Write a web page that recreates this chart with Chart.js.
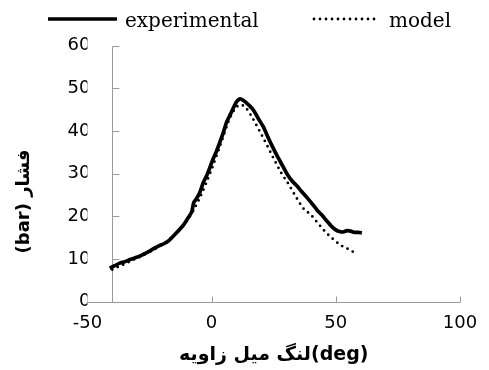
<!DOCTYPE html>
<html>
<head>
<meta charset="utf-8">
<script src="https://cdn.jsdelivr.net/npm/chart.js@4/dist/chart.umd.min.js"></script>
<style>
  html, body { margin: 0; padding: 0; background: #fff; }
  canvas { display: block; }
</style>
</head>
<body>
<canvas id="c" width="489" height="370"></canvas>
<script>
// ---- Data ----
const expX = [-41, -39, -37, -35, -33, -31, -29, -27, -25, -23, -21, -19, -17, -15, -13, -11, -9.5, -8, -7.2, -6, -4.7, -3.4, -2, -0.7, 0.6, 2, 3.3, 4.7, 6, 7.4, 8.7, 10, 11.4, 12.7, 14.7, 16.8, 18.8, 20.8, 22.8, 24.5, 26.5, 28.5, 30.5, 32.5, 34.5, 36.5, 38.5, 40.5, 42.5, 44.5, 46.5, 48.5, 50, 51.5, 53, 54.5, 56, 57.5, 59, 60.5];
const expY = [7.8, 8.4, 9.0, 9.3, 9.8, 10.2, 10.6, 11.2, 11.8, 12.5, 13.1, 13.6, 14.4, 15.6, 16.8, 18.2, 19.6, 21.0, 23.2, 24.2, 25.6, 27.8, 29.5, 31.4, 33.4, 35.3, 37.3, 39.6, 42.0, 43.7, 45.3, 46.8, 47.5, 47.2, 46.2, 44.9, 42.9, 41.0, 38.4, 36.3, 34.0, 31.9, 29.8, 28.2, 27.0, 25.6, 24.3, 22.9, 21.4, 20.2, 18.8, 17.5, 16.8, 16.4, 16.3, 16.6, 16.5, 16.2, 16.2, 16.1];
const modelX = [-40, -35, -30, -25, -20, -15, -10, -5, 0, 4, 7, 9.5, 11.5, 13.5, 16, 19, 22, 25, 28, 31, 34, 37, 40, 43, 46, 49, 52, 55, 58];
const modelY = [7.5, 8.8, 10.2, 11.6, 13.3, 15.6, 18.8, 24.0, 31.0, 37.5, 42.5, 45.2, 46.1, 45.6, 43.5, 40.3, 37.0, 33.5, 30.2, 27.5, 24.5, 21.8, 20.3, 18.2, 16.2, 14.6, 13.2, 12.3, 11.3];
const seriesNames = ['experimental', 'model'];
const xTicks = [-50, 0, 50, 100];
const yTicks = [0, 10, 20, 30, 40, 50, 60];
const xAxisTitle = 'لنگ میل زاویه(deg)';
const yAxisTitle = '(bar) فشار';
const yAxisCrossX = -40;

const toPoints = (xs, ys) => xs.map((v, i) => ({x: v, y: ys[i]}));

const axesPlugin = {
  id: 'axesPlugin',
  beforeDatasetsDraw(chart) {
    const {ctx, scales: {x, y}} = chart;
    ctx.save();
    ctx.strokeStyle = '#9a9a9a';
    ctx.lineWidth = 1;
    const x0 = Math.round(x.getPixelForValue(yAxisCrossX)) + 0.5;
    const yb = Math.round(y.getPixelForValue(0)) + 0.5;
    ctx.beginPath();
    ctx.moveTo(x0, Math.round(y.getPixelForValue(yTicks[yTicks.length - 1])) + 0.5);
    ctx.lineTo(x0, yb);
    yTicks.forEach(v => {
      const py = Math.round(y.getPixelForValue(v)) + 0.5;
      ctx.moveTo(x0, py); ctx.lineTo(x0 + 7, py);
    });
    ctx.moveTo(x.getPixelForValue(xTicks[0]), yb);
    ctx.lineTo(x.getPixelForValue(xTicks[xTicks.length - 1]), yb);
    xTicks.slice(1).forEach(v => {
      const px = Math.round(x.getPixelForValue(v)) + 0.5;
      ctx.moveTo(px, yb); ctx.lineTo(px, yb - 6);
    });
    ctx.stroke();
    ctx.restore();
  },
  afterDraw(chart) {
    const {ctx, chartArea} = chart;
    ctx.save();
    ctx.translate(24, chartArea.bottom - 100);
    ctx.rotate(-Math.PI / 2);
    ctx.direction = 'ltr';
    ctx.font = 'bold 18px "DejaVu Sans"';
    ctx.fillStyle = '#000';
    ctx.textAlign = 'center';
    ctx.textBaseline = 'middle';
    ctx.fillText(yAxisTitle, 0, 0);
    ctx.restore();

    const ds = chart.data.datasets;
    ctx.save();
    ctx.font = '20px "DejaVu Serif"';
    ctx.fillStyle = '#000';
    ctx.textBaseline = 'alphabetic';
    ctx.strokeStyle = ds[0].borderColor;
    ctx.lineWidth = ds[0].borderWidth;
    ctx.beginPath(); ctx.moveTo(48, 19); ctx.lineTo(117, 19); ctx.stroke();
    ctx.fillText(ds[0].label, 125, 26.5);
    ctx.strokeStyle = ds[1].borderColor;
    ctx.lineWidth = ds[1].borderWidth;
    ctx.lineCap = 'round';
    ctx.setLineDash(ds[1].borderDash);
    ctx.beginPath(); ctx.moveTo(314, 19); ctx.lineTo(377, 19); ctx.stroke();
    ctx.setLineDash([]);
    ctx.fillText(ds[1].label, 389, 26.5);
    ctx.restore();
  }
};

Chart.defaults.font.family = '"DejaVu Sans", sans-serif';
Chart.defaults.color = '#000';

new Chart(document.getElementById('c'), {
  type: 'line',
  data: {
    datasets: [
      {
        label: seriesNames[0],
        data: toPoints(expX, expY),
        borderColor: '#000',
        borderWidth: 3.7,
        pointRadius: 0,
        tension: 0.2,
        fill: false
      },
      {
        label: seriesNames[1],
        data: toPoints(modelX, modelY),
        borderColor: '#000',
        borderWidth: 2.8,
        borderDash: [0, 6],
        borderCapStyle: 'round',
        pointRadius: 0,
        cubicInterpolationMode: 'monotone',
        fill: false
      }
    ]
  },
  options: {
    responsive: false,
    animation: false,
    layout: { padding: { left: 43, right: 29, top: 45.6, bottom: 0 } },
    plugins: { legend: { display: false }, tooltip: { enabled: false } },
    scales: {
      x: {
        type: 'linear',
        min: xTicks[0],
        max: xTicks[xTicks.length - 1],
        afterBuildTicks: s => { s.ticks = xTicks.map(v => ({value: v})); },
        grid: { display: false, drawTicks: false },
        border: { display: false },
        ticks: { font: { size: 18 }, padding: 11, maxRotation: 0, color: '#000' },
        title: {
          display: true,
          text: xAxisTitle,
          font: { size: 19, weight: 'bold' },
          padding: { top: 0, bottom: 4 },
          color: '#000'
        },
        afterFit: s => { s.height = 68.5; }
      },
      y: {
        type: 'linear',
        min: yTicks[0],
        max: yTicks[yTicks.length - 1],
        afterBuildTicks: s => { s.ticks = yTicks.map(v => ({value: v})); },
        grid: { display: false, drawTicks: false },
        border: { display: false },
        ticks: { font: { size: 18 }, padding: -3, color: '#000' },
        afterFit: s => { s.width = 44.4; }
      }
    }
  },
  plugins: [axesPlugin]
});
</script>
</body>
</html>
